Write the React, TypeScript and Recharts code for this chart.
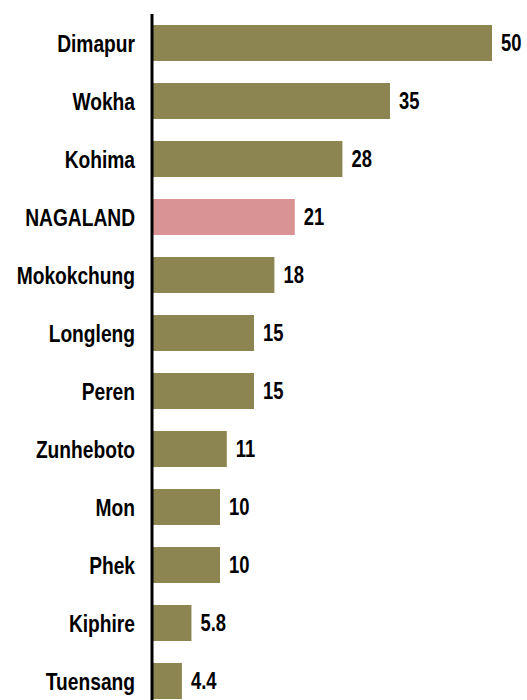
import { BarChart, Bar, XAxis, YAxis, Cell, LabelList } from 'recharts'

const DISTRICTS = [
  'Dimapur',
  'Wokha',
  'Kohima',
  'NAGALAND',
  'Mokokchung',
  'Longleng',
  'Peren',
  'Zunheboto',
  'Mon',
  'Phek',
  'Kiphire',
  'Tuensang',
]
const VALUES = [50, 35, 28, 21, 18, 15, 15, 11, 10, 10, 5.8, 4.4]
const HIGHLIGHT = 'NAGALAND'

const OLIVE = '#8c8451'
const PINK = '#d99395'
const FONT = '"Liberation Sans", Arial, sans-serif'
// no narrow font installed, so squeeze Liberation Sans by hand
const NARROW = 0.8

const data = DISTRICTS.map((name, i) => ({ name, value: VALUES[i] }))

function NarrowTick({ x, y, payload }: any) {
  return (
    <g transform={`translate(${x},${y})`}>
      <text
        transform={`scale(${NARROW},1)`}
        textAnchor="end"
        dy="0.355em"
        fill="#000"
        fontSize={24}
        fontWeight={700}
        fontFamily={FONT}
      >
        {payload.value}
      </text>
    </g>
  )
}

function ValueLabel({ x, y, width, height, value }: any) {
  const tx = Number(x) + Number(width) + 9
  const ty = Number(y) + Number(height) / 2
  return (
    <g transform={`translate(${tx},${ty})`}>
      <text
        transform={`scale(${NARROW},1)`}
        textAnchor="start"
        dy="0.355em"
        fill="#000"
        fontSize={23}
        fontWeight={700}
        fontFamily={FONT}
      >
        {value}
      </text>
    </g>
  )
}

export default function App() {
  return (
    <div style={{ position: 'fixed', top: 0, left: 0, width: 527, height: 700, overflow: 'hidden', background: '#fff' }}>
      <BarChart
        width={527}
        height={710}
        data={data}
        layout="vertical"
        margin={{ top: 14, right: 1, left: 0, bottom: 0 }}
        barCategoryGap={11}
      >
        <XAxis type="number" domain={[0, 55]} hide />
        <YAxis
          type="category"
          dataKey="name"
          width={152}
          interval={0}
          tickLine={false}
          tickSize={0}
          tickMargin={17}
          axisLine={{ stroke: '#000', strokeWidth: 3 }}
          tick={<NarrowTick />}
        />
        <Bar dataKey="value" isAnimationActive={false}>
          {data.map((d) => (
            <Cell key={d.name} fill={d.name === HIGHLIGHT ? PINK : OLIVE} />
          ))}
          <LabelList dataKey="value" content={<ValueLabel />} />
        </Bar>
      </BarChart>
    </div>
  )
}
